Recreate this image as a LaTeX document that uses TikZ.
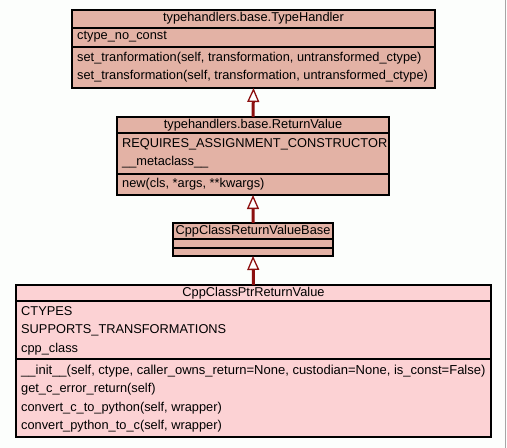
\documentclass[tikz,border=0pt]{standalone}
\usepackage{fontspec}
\setmainfont{Liberation Sans}
\usetikzlibrary{arrows.meta}
\definecolor{bgc}{HTML}{FCFEFC}
\definecolor{salmon}{HTML}{E3B2A5}
\definecolor{pinkc}{HTML}{FCD2D4}
\definecolor{darkred}{HTML}{8C1010}
\tikzset{
  classbox/.style={draw=black, line width=1.6bp, anchor=north west, inner sep=0pt, outer sep=0pt},
  sep/.style={draw=black, line width=1.6bp},
  txt/.style={anchor=base west, inner sep=0pt, font=\fontsize{12.8bp}{15bp}\selectfont},
  ttl/.style={anchor=base, inner sep=0pt, font=\fontsize{12.8bp}{15bp}\selectfont},
  inh/.style={draw=darkred, line width=3bp, -{Triangle[open, length=14bp, width=12bp, line width=1.3bp, fill=white]}}
}
\begin{document}
\begin{tikzpicture}[x=1bp, y=-1bp]
\useasboundingbox (0,0) rectangle (507,448);
\fill[bgc] (0,0) rectangle (507,448);
\draw[gray!70, line width=1.5bp] (505.5,0) -- (505.5,448);

% Box 1
\node[classbox, fill=salmon, minimum width=363bp, minimum height=78bp] (b1) at (72,10) {};
\draw[sep] (72,28) -- (435,28);
\draw[sep] (72,47) -- (435,47);
\node[ttl] (b1t) at (253.5,22) {typehandlers.base.TypeHandler};
\node[txt] (b1a) at (77,40) {ctype\_no\_const};
\node[txt] (b1m1) at (77,62) {set\_tranformation(self, transformation, untransformed\_ctype)};
\node[txt] (b1m2) at (77,80) {set\_transformation(self, transformation, untransformed\_ctype)};

% Box 2
\node[classbox, fill=salmon, minimum width=272bp, minimum height=78bp] (b2) at (117,117) {};
\draw[sep] (117,133) -- (389,133);
\draw[sep] (117,174) -- (389,174);
\node[ttl] (b2t) at (253,128.5) {typehandlers.base.ReturnValue};
\node[txt] (b2a1) at (122,147.5) {REQUIRES\_ASSIGNMENT\_CONSTRUCTOR};
\node[txt] (b2a2) at (122,165.7) {\_\_metaclass\_\_};
\node[txt] (b2m1) at (122,187.5) {new(cls, *args, **kwargs)};

% Box 3
\node[classbox, fill=salmon, minimum width=160bp, minimum height=33bp] (b3) at (173,223) {};
\draw[sep] (173,239) -- (333,239);
\draw[sep] (173,248) -- (333,248);
\node[ttl] (b3t) at (253,234.5) {CppClassReturnValueBase};

% Box 4
\node[classbox, fill=pinkc, minimum width=475bp, minimum height=152bp] (b4) at (16,285) {};
\draw[sep] (16,301) -- (491,301);
\draw[sep] (16,359) -- (491,359);
\node[ttl] (b4t) at (253.5,296.5) {CppClassPtrReturnValue};
\node[txt] (b4a1) at (21,315) {CTYPES};
\node[txt] (b4a2) at (21,333.5) {SUPPORTS\_TRANSFORMATIONS};
\node[txt] (b4a3) at (21,352) {cpp\_class};
\node[txt, font=\fontsize{13bp}{15bp}\selectfont] (b4m1) at (21,374) {\_\_init\_\_(self, ctype, caller\_owns\_return=None, custodian=None, is\_const=False)};
\node[txt] (b4m2) at (21,392.5) {get\_c\_error\_return(self)};
\node[txt] (b4m3) at (21,411) {convert\_c\_to\_python(self, wrapper)};
\node[txt] (b4m4) at (21,429.5) {convert\_python\_to\_c(self, wrapper)};

% Inheritance
\draw[inh] (b2.north) -- (b1.south);
\draw[inh] (b3.north) -- (b2.south);
\draw[inh] (b4.north) -- (b3.south);
\end{tikzpicture}
\end{document}
